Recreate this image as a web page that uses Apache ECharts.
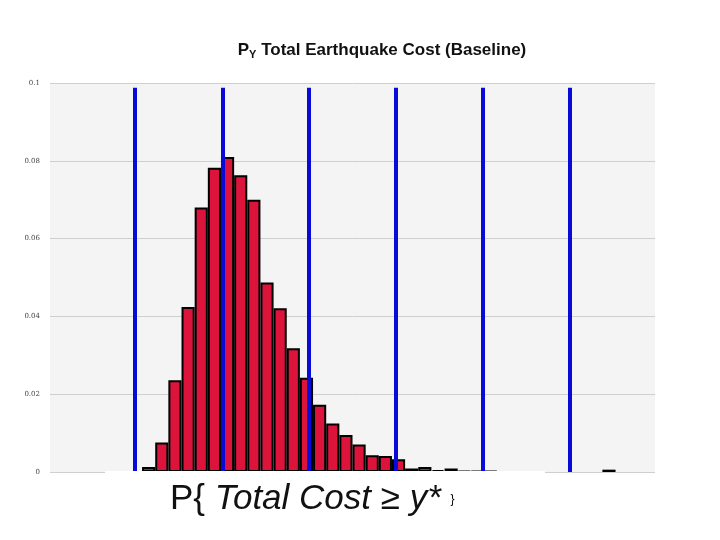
<!DOCTYPE html>
<html>
<head>
<meta charset="utf-8">
<script src="https://cdn.jsdelivr.net/npm/echarts@6/dist/echarts.min.js"></script>
<style>
  html, body { margin: 0; padding: 0; background: #fff; }
  #chart { width: 720px; height: 540px; }
</style>
</head>
<body>
<div id="chart"></div>
<script>
// histogram bins (index 0..45), probability per bin, null = empty bin
const binValues = [
  null, null, null, null, null, null, null,
  0.0013, 0.0076, 0.0236, 0.0424, 0.068, 0.0782, 0.081, 0.0763, 0.070,
  0.0487, 0.0421, 0.0318, 0.0242, 0.0173, 0.0125, 0.0095, 0.0071, 0.0043,
  0.0041, 0.0033, 0.0009, 0.0013, 0.0005, 0.0009, 0.0003, 0.0002, 0.0002,
  null, null, null, null, null, null, null, null, 0.0006, null, null, null
]
const binNames = binValues.map((v, i) => String(i))
// blue threshold lines (position in bins)
const thresholds = [6.45, 13.1, 19.7, 26.3, 32.9, 39.5]
const yTicks = [0, 0.02, 0.04, 0.06, 0.08, 0.1]

const chart = echarts.init(document.getElementById('chart'))
chart.setOption({
  animation: false,
  title: {
    text: '{p|P}{s|Y}{t| Total Earthquake Cost (Baseline)}',
    left: 377, top: 36, textAlign: 'center',
    textStyle: {
      rich: {
        p: { fontFamily: 'Liberation Sans', fontWeight: 'bold', fontSize: 17, color: '#111' },
        s: { fontFamily: 'Liberation Sans', fontWeight: 'bold', fontSize: 11, color: '#111', verticalAlign: 'bottom', padding: [8, 0, 0, 0] },
        t: { fontFamily: 'Liberation Sans', fontWeight: 'bold', fontSize: 17, color: '#111' }
      }
    }
  },
  grid: { left: 50, right: 65, top: 83, bottom: 68, show: true, backgroundColor: '#f4f4f4', borderWidth: 0 },
  xAxis: [
    {
      type: 'category', data: binNames, boundaryGap: true,
      axisLine: { show: false }, axisTick: { show: false }, axisLabel: { show: false }
    },
    {
      type: 'value', min: 0, max: 46, show: false
    }
  ],
  yAxis: {
    type: 'value', min: 0, max: 0.1, interval: 0.02,
    axisLine: { show: false }, axisTick: { show: false },
    axisLabel: {
      fontSize: 7, color: '#444', fontFamily: 'DejaVu Serif', margin: 10,
      formatter: v => (yTicks.includes(+v.toFixed(2)) ? String(+v.toFixed(2)) : '')
    },
    splitLine: { lineStyle: { color: '#cfcfcf', width: 1 } }
  },
  series: [
    {
      type: 'bar', data: binValues, barWidth: '100%', barGap: '0%', z: 2,
      itemStyle: { color: '#dc143c', borderColor: '#000', borderWidth: 2 }
    },
    {
      type: 'scatter', xAxisIndex: 1, data: [], symbolSize: 0, z: 5,
      markLine: {
        silent: true, symbol: 'none', label: { show: false }, z: 10,
        lineStyle: { color: '#0a0ad8', width: 4, type: 'solid' },
        data: thresholds.map(t => [{ coord: [t, 0] }, { coord: [t, 0.0988] }])
      }
    }
  ],
  graphic: [
    { type: 'rect', shape: { x: 105, y: 471, width: 440, height: 60 }, style: { fill: '#fff' }, z: 100 },
    {
      type: 'text', left: 170, top: 482, z: 101,
      style: {
        text: '{n|P\u007B }{i|Total Cost}{n| ≥ }{i|y*}{n| \u007D}',
        rich: {
          n: { fontFamily: 'Liberation Sans', fontSize: 35, fill: '#111' },
          i: { fontFamily: 'Liberation Sans', fontSize: 35, fontStyle: 'italic', fill: '#111' }
        }
      }
    }
  ]
})
</script>
</body>
</html>
